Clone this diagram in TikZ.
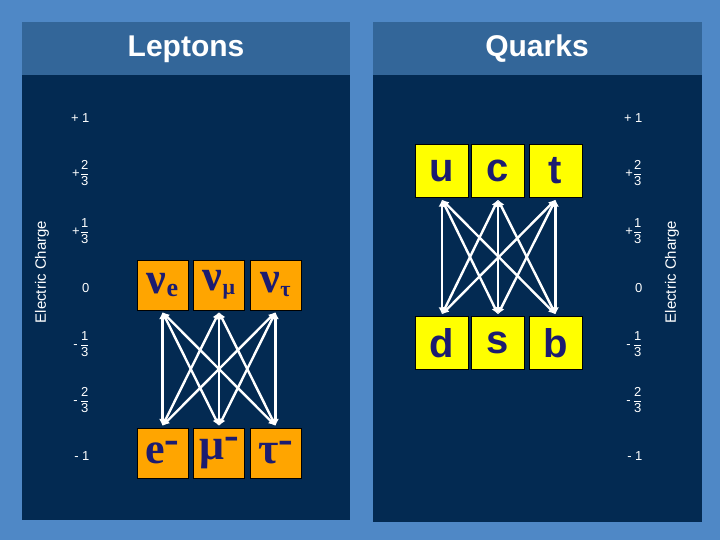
\documentclass[tikz,border=0pt]{standalone}
\usepackage{amsmath}
\usepackage{fontspec}
\setmainfont{Liberation Sans}
\newfontfamily\serifb{Liberation Serif}
\usetikzlibrary{arrows.meta}
\definecolor{bgblue}{HTML}{4F88C6}
\definecolor{panel}{HTML}{032A52}
\definecolor{head}{HTML}{336699}
\definecolor{ink}{HTML}{1C1C70}
\definecolor{orng}{HTML}{FFA500}
\definecolor{yel}{HTML}{FFFF00}
\newcommand{\fr}[2]{$\dfrac{\text{#1}}{\text{#2}}$}
\tikzset{
  lbox/.style={draw=black, fill=orng, minimum width=51pt, minimum height=50pt, inner sep=0pt, text=ink, font=\serifb\bfseries\fontsize{44}{44}\selectfont},
  qbox/.style={draw=black, fill=yel, minimum width=53pt, minimum height=53pt, inner sep=0pt, text=ink, font=\bfseries\fontsize{40}{40}\selectfont},
  chg/.style={text=white, font=\fontsize{13}{14}\selectfont, anchor=east},
  axis/.style={text=white, rotate=90, font=\fontsize{15}{16}\selectfont},
  title/.style={text=white, font=\bfseries\fontsize{30}{32}\selectfont},
  link/.style={white, line width=2.4pt, {Latex[length=7pt,width=7pt]}-{Latex[length=7pt,width=7pt]}}
}
\begin{document}
\begin{tikzpicture}[x=1pt,y=-1pt]
\fill[bgblue] (0,0) rectangle (720,540);
\useasboundingbox (0,0) rectangle (720,540);
\fill[panel] (22,22) rectangle (350,520);
\fill[panel] (373,22) rectangle (702,522);
\fill[head] (22,22) rectangle (350,75);
\fill[head] (373,22) rectangle (702,75);
\node[title] (tl) at (186,49) {Leptons};
\node[title] (tq) at (537,49) {Quarks};
% charge scales
\foreach \xx/\nm in {93/L,646/R}{
  \node[chg] (\nm a) at (\xx,118) {+ 1};
  \node[chg] (\nm b) at (\xx,173) {+\fr{2}{3}};
  \node[chg] (\nm c) at (\xx,231) {+\fr{1}{3}};
  \node[chg] (\nm d) at (\xx,288) {0};
  \node[chg] (\nm e) at (\xx,344) {-\,\fr{1}{3}};
  \node[chg] (\nm f) at (\xx,400) {-\,\fr{2}{3}};
  \node[chg] (\nm g) at (\xx,456) {- 1};
}
\node[axis] (ecl) at (42,272) {Electric Charge};
\node[axis] (ecr) at (672,272) {Electric Charge};
% leptons
\node[lbox] (ne) at (162.5,285) {ν\raisebox{-3pt}{\fontsize{26}{26}\selectfont e}};
\node[lbox] (nm) at (219,285) {ν\raisebox{-4pt}{\fontsize{22}{22}\selectfont μ}};
\node[lbox] (nt) at (275.5,285) {ν\raisebox{-4pt}{\fontsize{22}{22}\selectfont τ}};
\node[lbox] (el) at (162.5,453) {e\raisebox{10pt}{-}};
\node[lbox] (mu) at (219,453) {μ\raisebox{10pt}{-}};
\node[lbox] (ta) at (275.5,453) {τ\raisebox{10pt}{-}};
% quarks
\node[qbox] (u) at (442,171) {u};
\node[qbox] (c) at (498,171) {c};
\node[qbox] (t) at (555.5,171) {t};
\node[qbox] (d) at (442,343) {d};
\node[qbox] (s) at (498,343) {s};
\node[qbox] (b) at (555.5,343) {b};
\foreach \a in {ne,nm,nt}{\foreach \b in {el,mu,ta}{\draw[link] ([yshift=-2pt]\a.south) -- ([yshift=2pt]\b.north);}}
\foreach \a in {u,c,t}{\foreach \b in {d,s,b}{\draw[link] ([yshift=-2pt]\a.south) -- ([yshift=2pt]\b.north);}}
\end{tikzpicture}
\end{document}
